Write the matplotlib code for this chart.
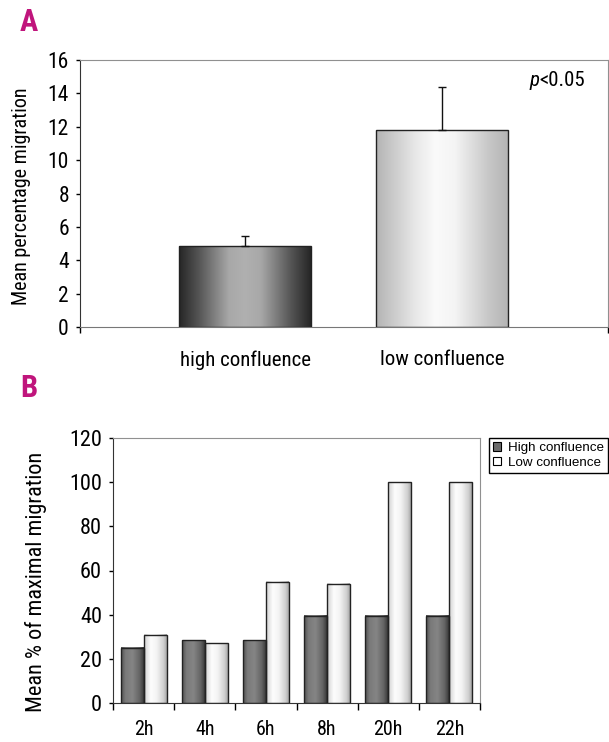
import numpy as np
import matplotlib
matplotlib.use("Agg")
import matplotlib.pyplot as plt
from matplotlib.patches import Patch
from matplotlib.colors import LinearSegmentedColormap

narrow = ['Liberation Sans Narrow', 'Arial Narrow', 'Roboto Condensed', 'Archivo Narrow',
          'PT Sans Narrow', 'Pragati Narrow', 'Fira Sans Condensed', 'Liberation Sans', 'DejaVu Sans']
plt.rcParams['font.family'] = narrow

# panel A data
groups_a = ["high confluence", "low confluence"]
means_a = [4.85, 11.8]
errs_a = [0.6, 2.6]

# panel B data
times_b = ["2h", "4h", "6h", "8h", "20h", "22h"]
high_b = [25, 28.5, 28.5, 39.5, 39.5, 39.5]
low_b = [31, 27, 55, 54, 100, 100]

magenta = "#c0157c"

cm_dark = LinearSegmentedColormap.from_list(
    "dark", [(0, "#262626"), (0.15, "#555555"), (0.38, "#a8a8a8"), (0.5, "#b0b0b0"),
             (0.62, "#a8a8a8"), (0.85, "#555555"), (1, "#262626")])
cm_light = LinearSegmentedColormap.from_list(
    "light", [(0, "#b4b4b4"), (0.3, "#e8e8e8"), (0.45, "#fafafa"), (0.6, "#f4f4f4"),
              (0.85, "#c8c8c8"), (1, "#b4b4b4")])
cm_bdark = LinearSegmentedColormap.from_list(
    "bdark", [(0, "#505050"), (0.2, "#7a7a7a"), (0.5, "#858585"), (0.8, "#666666"), (1, "#3a3a3a")])
cm_blight = LinearSegmentedColormap.from_list(
    "blight", [(0, "#d0d0d0"), (0.3, "#fdfdfd"), (0.55, "#f4f4f4"), (0.85, "#d0d0d0"), (1, "#a8a8a8")])

grad = np.linspace(0, 1, 256).reshape(1, -1)


def shaded_bars(ax, xs, heights, width, cmap, lw=1.0):
    bars = ax.bar(xs, heights, width, facecolor="none", edgecolor="#222222", linewidth=lw, zorder=3)
    for b in bars:
        x0, y0 = b.get_x(), b.get_y()
        ax.imshow(grad, cmap=cmap, aspect="auto", interpolation="bilinear",
                  extent=(x0, x0 + b.get_width(), y0, y0 + b.get_height()), zorder=2)
    return bars


fig = plt.figure(figsize=(6.09, 7.42), dpi=100)

# ---------- panel A ----------
ax1 = fig.add_axes([80 / 609, 1 - 327 / 742, 528 / 609, 267 / 742])
xa = np.arange(len(groups_a))
shaded_bars(ax1, xa[:1], means_a[:1], 0.67, cm_dark)
shaded_bars(ax1, xa[1:], means_a[1:], 0.67, cm_light)
ax1.errorbar(xa, means_a, yerr=[[0, 0], errs_a], fmt="none", ecolor="#111111",
             elinewidth=1, capsize=3, capthick=1, zorder=4)
ax1.set_xlim(-0.838, 1.843)
ax1.set_ylim(0, 16)
ax1.set_yticks(range(0, 17, 2))
ax1.set_xticks([-0.838, 1.843])
ax1.set_xticklabels([])
for x, lab in zip(xa, groups_a):
    ax1.text(x, -1.4, lab, ha="center", va="top", fontsize=15)
ax1.tick_params(axis="y", labelsize=15.5, length=3, width=1, direction="out", pad=5)
ax1.tick_params(axis="x", length=4, width=1, direction="out")
for s in ["top", "right"]:
    ax1.spines[s].set_color("#909090")
ax1.spines["left"].set_color("#333333")
ax1.spines["bottom"].set_color("#777777")
ax1.set_ylabel("Mean percentage migration", fontsize=14.5)
ax1.yaxis.set_label_coords(-0.092, 0.49)
ax1.text(0.870, 0.925, "p", style="italic", ha="right", va="center", fontsize=15, transform=ax1.transAxes)
ax1.text(0.870, 0.925, "<0.05", ha="left", va="center", fontsize=15, transform=ax1.transAxes)

fig.text(20 / 609, 1 - 22 / 742, "A", color=magenta, fontsize=22, fontweight="bold", va="center")

# ---------- panel B ----------
ax2 = fig.add_axes([113 / 609, 1 - 703 / 742, 367 / 609, 265 / 742])
xb = np.arange(len(times_b))
bw = 0.375
shaded_bars(ax2, xb - bw / 2, high_b, bw, cm_bdark)
shaded_bars(ax2, xb + bw / 2, low_b, bw, cm_blight)
ax2.set_xlim(-0.5, len(times_b) - 0.5)
ax2.set_ylim(0, 120)
ax2.set_yticks(range(0, 121, 20))
ax2.set_xticks(np.arange(-0.5, len(times_b), 1.0))
ax2.set_xticklabels([])
for x, lab in zip(xb, times_b):
    ax2.text(x, -7.5, lab, ha="center", va="top", fontsize=14.5)
ax2.tick_params(axis="y", labelsize=16, length=3, width=1, direction="out", pad=5)
ax2.tick_params(axis="x", length=5, width=1, direction="out")
for s in ["top", "right"]:
    ax2.spines[s].set_color("#909090")
ax2.spines["left"].set_color("#333333")
ax2.spines["bottom"].set_color("#333333")
ax2.set_ylabel("Mean % of maximal migration", fontsize=16)
ax2.yaxis.set_label_coords(-0.180, 0.457)

handles = [Patch(facecolor="#6a6a6a", edgecolor="black", linewidth=0.8),
           Patch(facecolor="white", edgecolor="black", linewidth=0.8)]
fig.legend(handles, ["High confluence", "Low confluence"], loc="upper left",
           bbox_to_anchor=(489 / 609, 1 - 438 / 742), borderaxespad=0, fancybox=False,
           edgecolor="black", framealpha=1, handlelength=0.6, handleheight=0.6,
           handletextpad=0.5, labelspacing=0.2, borderpad=0.3,
           prop={"family": ["Liberation Sans", "DejaVu Sans"], "size": 9.6})

fig.text(20 / 609, 1 - 388 / 742, "B", color=magenta, fontsize=22, fontweight="bold", va="center")

fig.savefig("out.png", dpi=100)
